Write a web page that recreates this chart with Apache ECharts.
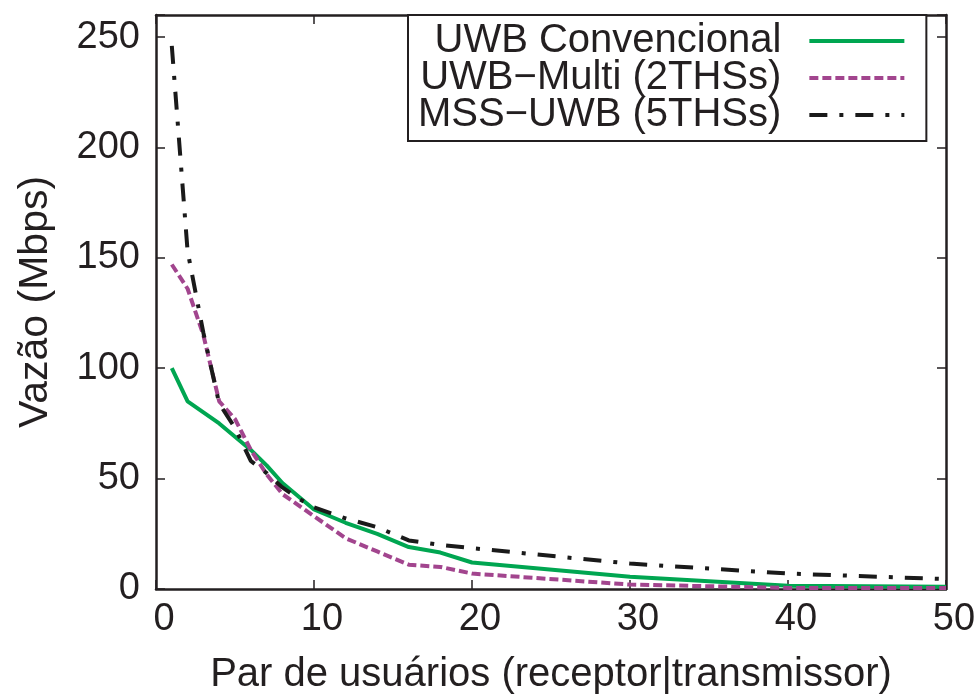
<!DOCTYPE html>
<html>
<head>
<meta charset="utf-8">
<title>Vazão por par de usuários</title>
<script src="https://cdn.jsdelivr.net/npm/echarts@6/dist/echarts.min.js"></script>
<style>
  html, body { margin: 0; padding: 0; background: #ffffff; }
  #chart { width: 980px; height: 697px; }
</style>
</head>
<body>
<div id="chart"></div>
<script>
// Número de pares de usuários (eixo x)
const pares = [1, 2, 3, 4, 5, 6, 7, 8, 9, 10, 12, 14, 16, 18, 20, 30, 40, 50];

// Vazão (Mbps) de cada esquema
const uwbConvencional = [100, 85, 80, 75, 69, 63, 56, 48, 42, 36, 30, 25, 19, 16.5, 12, 5.5, 1.5, 1];
const uwbMulti2THS    = [147, 136, 115, 85, 77, 63, 52, 43, 38, 33, 23, 17, 11, 10, 7, 2, 0.5, 0.5];
const mssUwb5THS      = [246, 153, 116, 84, 73, 58, 52.5, 46, 41, 37, 32, 28, 22, 20, 18.5, 11.5, 7, 4.5];

const nomes = ['UWB Convencional', 'UWB\u2212Multi (2THSs)', 'MSS\u2212UWB (5THSs)'];

const yTicks = [0, 50, 100, 150, 200, 250];
const xTicks = [0, 10, 20, 30, 40, 50];

const FONT = '"Liberation Sans", Arial, Helvetica, sans-serif';
const INK = '#231f20';

const estilos = [
  { color: '#00a651', width: 4, type: 'solid' },
  { color: '#a2458e', width: 4, type: [9, 4] },
  { color: '#1a1a1a', width: 4, type: [18, 12, 4, 12] }
];

const comoPontos = ys => pares.map((x, i) => [x, ys[i]]);

const frameAxis = {
  axisLine: { show: true, onZero: false, lineStyle: { color: INK, width: 2.5 } },
  axisTick: { show: true, inside: true, length: 9, lineStyle: { color: INK, width: 1.5 } },
  splitLine: { show: false }
};

const chart = echarts.init(document.getElementById('chart'), null, { renderer: 'canvas' });

chart.setOption({
  animation: false,
  backgroundColor: '#ffffff',
  grid: { left: 156, right: 34, top: 15, bottom: 108, containLabel: false, outerBoundsMode: 'none' },
  xAxis: [
    Object.assign({}, frameAxis, {
      type: 'value', position: 'bottom', min: xTicks[0], max: xTicks[xTicks.length - 1], interval: 10,
      name: 'Par de usuários (receptor|transmissor)',
      nameLocation: 'middle', nameGap: 66,
      nameTextStyle: { fontFamily: FONT, fontSize: 40, color: INK },
      axisLabel: { fontFamily: FONT, fontSize: 38, color: INK, margin: 12, padding: [0, 0, 0, 16],
        formatter: v => xTicks.includes(v) ? String(v) : '' }
    }),
    Object.assign({}, frameAxis, {
      type: 'value', position: 'top', min: xTicks[0], max: xTicks[xTicks.length - 1], interval: 10,
      axisLabel: { show: false }
    })
  ],
  yAxis: [
    Object.assign({}, frameAxis, {
      type: 'value', position: 'left', min: 0, max: 260, interval: 50,
      name: 'Vazão (Mbps)',
      nameLocation: 'middle', nameGap: 100,
      nameTextStyle: { fontFamily: FONT, fontSize: 41, color: INK },
      axisLabel: { fontFamily: FONT, fontSize: 38, color: INK, margin: 16,
        formatter: v => yTicks.includes(v) ? String(v) : '' }
    }),
    Object.assign({}, frameAxis, {
      type: 'value', position: 'right', min: 0, max: 260, interval: 50,
      axisLabel: { show: false }
    })
  ],
  legend: {
    orient: 'vertical',
    left: 408, top: 15,
    align: 'right',
    padding: [6, 20, 6, 10],
    itemGap: -3,
    itemWidth: 95, itemHeight: 20,
    backgroundColor: '#ffffff',
    borderColor: INK, borderWidth: 2,
    textStyle: { fontFamily: FONT, fontSize: 40, color: INK, width: 362, align: 'right',
      padding: [0, 23, 0, 0], lineHeight: 36.5 },
    data: nomes.map((n, i) => ({
      name: n,
      itemStyle: { opacity: 0 },
      lineStyle: { color: estilos[i].color, width: estilos[i].width, type: estilos[i].type, opacity: 1 }
    }))
  },
  series: nomes.map((n, i) => ({
    name: n,
    type: 'line',
    data: comoPontos([uwbConvencional, uwbMulti2THS, mssUwb5THS][i]),
    symbol: 'none',
    lineStyle: { color: estilos[i].color, width: estilos[i].width, type: estilos[i].type },
    itemStyle: { color: estilos[i].color }
  }))
});
</script>
</body>
</html>
